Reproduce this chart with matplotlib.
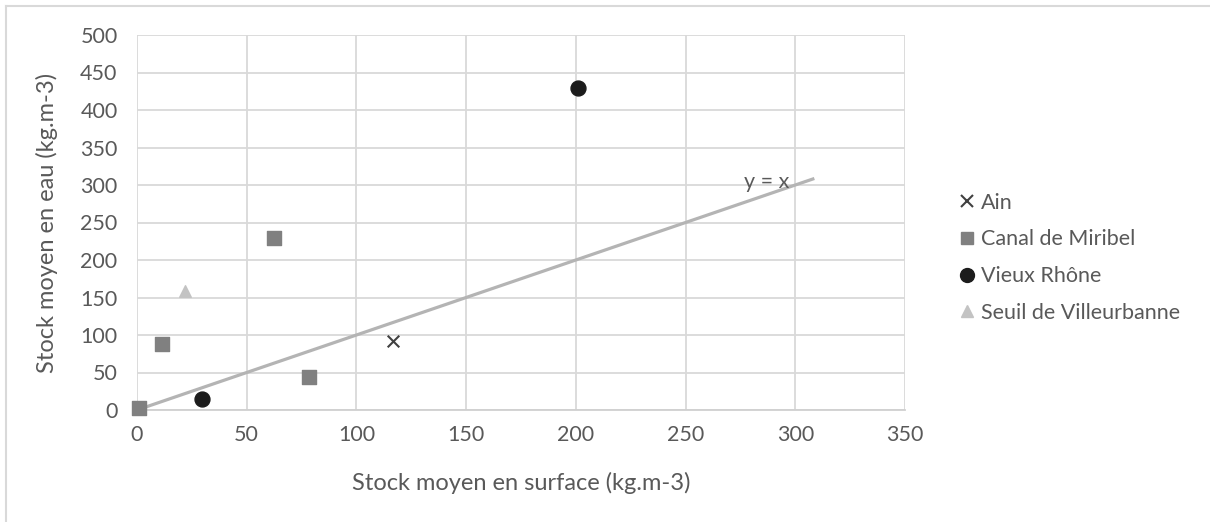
import matplotlib
matplotlib.use('Agg')
import matplotlib.pyplot as plt
from matplotlib.lines import Line2D

plt.rcParams['font.family'] = ['Lato', 'DejaVu Sans']

# valeurs
ain_x = [116.7]
ain_y = [91.5]
miribel_x = [0.8, 11.2, 62.4, 78.5]
miribel_y = [2.5, 87.5, 230.0, 44.5]
rhone_x = [29.6, 201.1]
rhone_y = [14.5, 429.0]
seuil_x = [21.7]
seuil_y = [159.0]
droite_x = [0, 308]
droite_y = [0, 308]

txt = '#595959'

fig = plt.figure(figsize=(12.1, 5.22), dpi=100)
ax = fig.add_axes([137/1210, 1-410/522, (905-137)/1210, (410-35)/522])

ax.plot(droite_x, droite_y, color='#b4b4b4', linewidth=2.3, zorder=2)
ax.scatter(ain_x, ain_y, marker='x', s=70, color='#404040', linewidths=1.5, zorder=3, clip_on=False)
ax.scatter(miribel_x, miribel_y, marker='s', s=100, color='#808080', zorder=3, clip_on=False)
ax.scatter(rhone_x, rhone_y, marker='o', s=115, color='#1c1c1c', zorder=3, clip_on=False)
ax.scatter(seuil_x, seuil_y, marker='^', s=70, color='#c3c3c3', zorder=3, clip_on=False)
ax.text(297.5, 304, 'y = x', fontsize=15.5, color=txt, ha='right', va='center')

ax.set_xlim(0, 350)
ax.set_ylim(0, 500)
ax.set_xticks(range(0, 351, 50))
ax.set_yticks(range(0, 501, 50))
ax.grid(True, color='#d9d9d9', linewidth=1.3)
ax.set_axisbelow(True)
for s in ['top', 'right', 'left']:
    ax.spines[s].set_visible(False)
ax.spines['bottom'].set_color('#d0d0d0')
ax.spines['bottom'].set_linewidth(1.3)
ax.tick_params(length=0, labelsize=15.5, labelcolor=txt, pad=11)
ax.tick_params(axis='y', pad=14)
ax.set_xlabel('Stock moyen en surface (kg.m-3)', fontsize=17, color=txt, labelpad=19)
ax.set_ylabel('Stock moyen en eau (kg.m-3)', fontsize=17, color=txt, labelpad=16)

handles = [
    Line2D([], [], marker='x', linestyle='none', color='#404040', markersize=8, markeredgewidth=1.5),
    Line2D([], [], marker='s', linestyle='none', color='#808080', markersize=9),
    Line2D([], [], marker='o', linestyle='none', color='#1c1c1c', markersize=10),
    Line2D([], [], marker='^', linestyle='none', color='#c3c3c3', markersize=8),
]
labels = ['Ain', 'Canal de Miribel', 'Vieux Rhône', 'Seuil de Villeurbanne']
leg = fig.legend(handles, labels, loc='upper left', bbox_to_anchor=(952/1210, 1-184/522),
                 frameon=False, fontsize=15.5, handlelength=0.6, handletextpad=0.35,
                 labelspacing=0.78, borderaxespad=0)
for t in leg.get_texts():
    t.set_color(txt)

# cadre du graphique
fig.add_artist(Line2D([6/1210, 6/1210], [0, 1-6/522], color='#d9d9d9', linewidth=1.5))
fig.add_artist(Line2D([6/1210, 1], [1-6/522, 1-6/522], color='#d9d9d9', linewidth=1.5))

fig.savefig('out.png', dpi=100)
